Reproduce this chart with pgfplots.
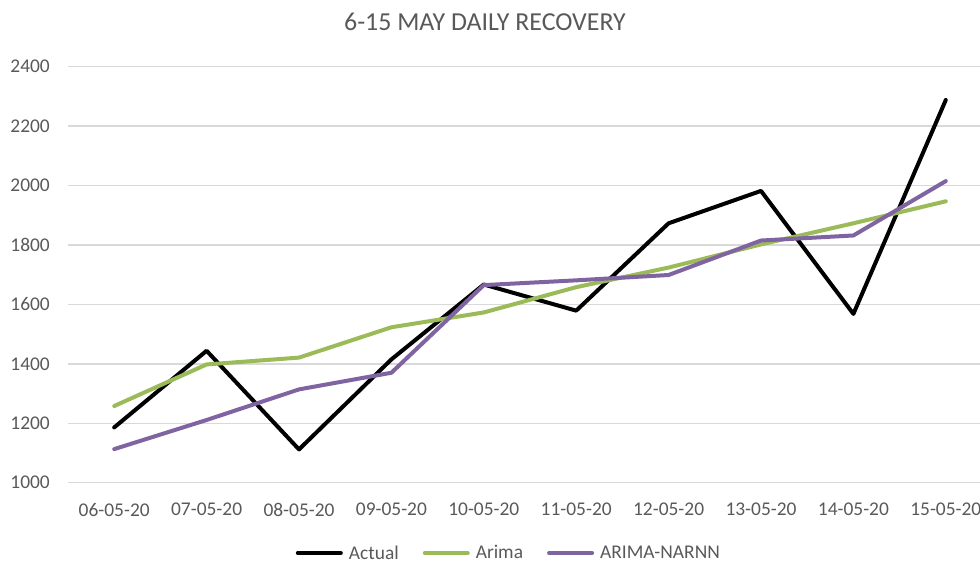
\documentclass[border=0pt]{standalone}
\usepackage{fontspec}
\setmainfont{Carlito}
\usepackage{pgfplots}
\pgfplotsset{compat=1.18}
\definecolor{txtgray}{HTML}{595959}
\definecolor{gridgray}{HTML}{D9D9D9}
\definecolor{arimagreen}{HTML}{9BBB59}
\definecolor{narnnpurple}{HTML}{8064A2}
\begin{document}
\begin{tikzpicture}
\useasboundingbox (0,0) rectangle (980bp,564bp);
\clip (0,0) rectangle (980bp,564bp);
\node[text=txtgray, font=\fontsize{26}{31}\selectfont, inner sep=0pt] at (485bp,542bp) {6-15 MAY DAILY RECOVERY};
\begin{axis}[
  scale only axis,
  width=924bp, height=416bp,
  at={(68bp,81.3bp)}, anchor=south west,
  xmin=-0.5, xmax=9.5,
  ymin=1000, ymax=2400,
  xtick={0,...,9},
  xticklabels={06-05-20,07-05-20,08-05-20,09-05-20,10-05-20,11-05-20,12-05-20,13-05-20,14-05-20,15-05-20},
  ytick={1000,1200,...,2400},
  ymajorgrids,
  grid style={color=gridgray, line width=1.4bp},
  axis line style={draw=none},
  major tick length=0pt,
  /pgf/number format/assume math mode=true,
  /pgf/number format/1000 sep={},
  every tick label/.append style={text=txtgray, font=\fontsize{19.5}{23}\selectfont, inner sep=0pt},
  yticklabel style={anchor=east, xshift=-18bp},
  xticklabel style={anchor=north, yshift=-20bp},
  legend columns=3,
  legend style={draw=none, fill=none, inner sep=0pt,
    at={(0.476,-0.169)}, anchor=center,
    nodes={inner sep=0pt, text=txtgray, font=\fontsize{19.5}{23}\selectfont},
    /tikz/every odd column/.append style={column sep=6bp},
    /tikz/every even column/.append style={column sep=24bp}},
  legend image code/.code={\draw[#1] (0bp,0bp) -- (43bp,0bp);},
  every axis plot/.append style={line width=4bp, line join=round, line cap=round, no marks},
]
\addplot[color=black] coordinates {
  (0,1186) (1,1444) (2,1112) (3,1415) (4,1667)
  (5,1579) (6,1873) (7,1982) (8,1568) (9,2288)
};
\addlegendentry{Actual}
\addplot[color=arimagreen] coordinates {
  (0,1258) (1,1398) (2,1421) (3,1523) (4,1573)
  (5,1658) (6,1724) (7,1802) (8,1873) (9,1947)
};
\addlegendentry{Arima}
\addplot[color=narnnpurple] coordinates {
  (0,1113) (1,1211) (2,1314) (3,1370) (4,1665)
  (5,1681) (6,1699) (7,1815) (8,1832) (9,2015)
};
\addlegendentry{ARIMA-NARNN}
\end{axis}
\end{tikzpicture}
\end{document}
